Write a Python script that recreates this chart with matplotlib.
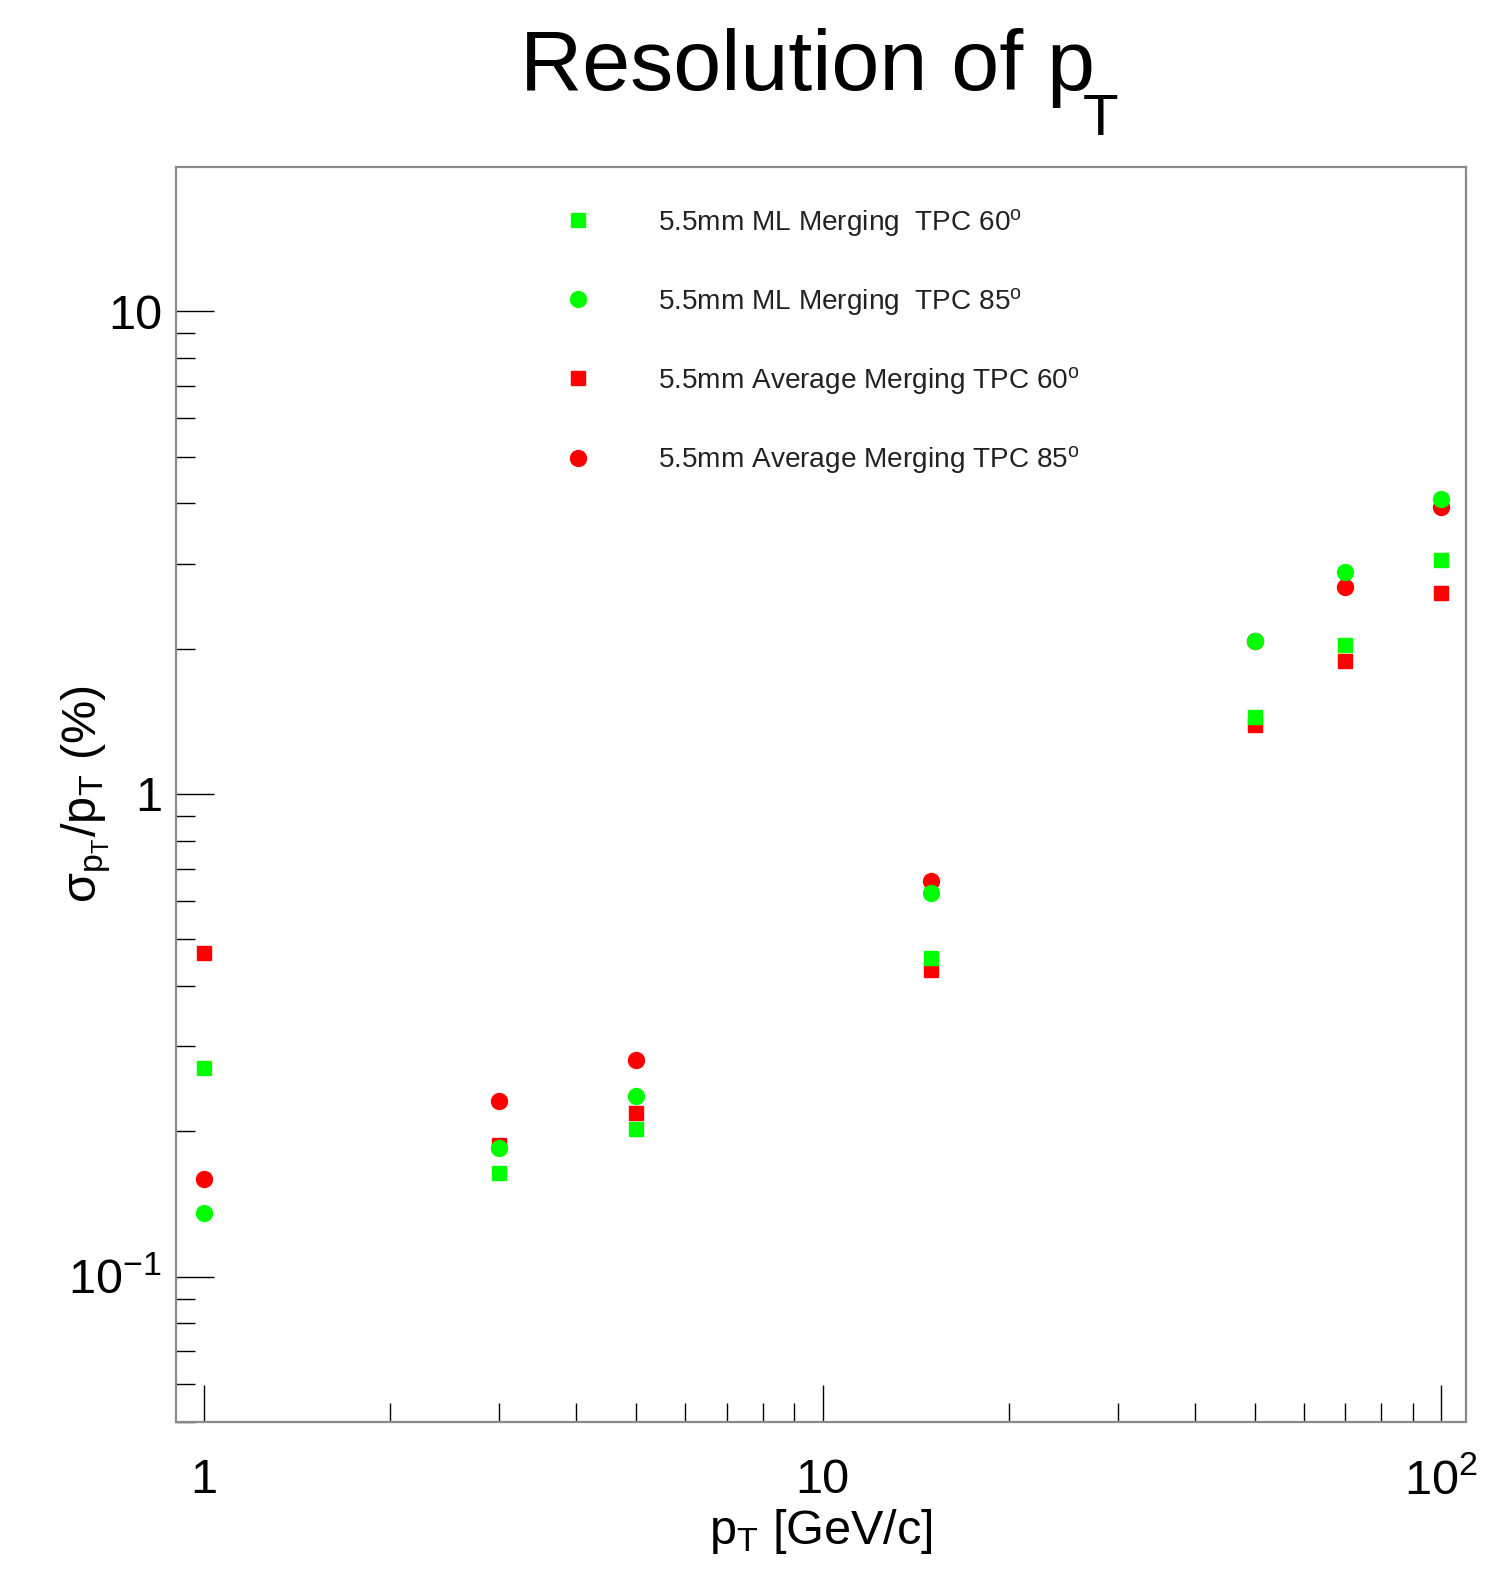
import numpy as np
import matplotlib
matplotlib.use("Agg")
import matplotlib.pyplot as plt
from matplotlib.ticker import FixedLocator, NullFormatter

plt.rcParams["font.family"] = ["Liberation Sans", "DejaVu Sans"]
plt.rcParams["mathtext.fontset"] = "custom"
plt.rcParams["mathtext.rm"] = "Liberation Sans"
plt.rcParams["mathtext.it"] = "Liberation Sans"
plt.rcParams["mathtext.default"] = "regular"

# ---------------------------------------------------------
# Data
# ---------------------------------------------------------
pt = [1, 3, 5, 15, 50, 70, 100]

ml_60 = [0.271, 0.164, 0.2025, 0.4575, 1.446, 2.035, 3.05]
ml_85 = [0.1357, 0.185, 0.237, 0.625, 2.077, 2.885, 4.08]
avg_60 = [0.469, 0.1877, 0.2187, 0.432, 1.39, 1.888, 2.61]
avg_85 = [0.1595, 0.2314, 0.2813, 0.661, 2.07, 2.683, 3.93]

labels = [
    "5.5mm ML Merging  TPC 60$^{o}$",
    "5.5mm ML Merging  TPC 85$^{o}$",
    "5.5mm Average Merging TPC 60$^{o}$",
    "5.5mm Average Merging TPC 85$^{o}$",
]

GREEN = "#00ff00"
RED = "#ff0000"

W, H = 1491, 1569

# ---------------------------------------------------------
# Plot
# ---------------------------------------------------------
fig = plt.figure(figsize=(W / 100, H / 100), dpi=100)
ax = fig.add_axes([176 / W, 1 - 1422 / H, 1290 / W, 1255 / H])

ax.set_xscale("log")
ax.set_yscale("log")
ax.set_xlim(0.901, 109.7)
ax.set_ylim(0.05, 19.9)

# red drawn first, green on top
h_rs, = ax.plot(pt, avg_60, "s", color=RED, ms=10, mec=RED, zorder=3)
h_rc, = ax.plot(pt, avg_85, "o", color=RED, ms=11.5, mec=RED, zorder=3)
h_gs, = ax.plot(pt, ml_60, "s", color=GREEN, ms=10, mec=GREEN, zorder=4)
h_gc, = ax.plot(pt, ml_85, "o", color=GREEN, ms=11.5, mec=GREEN, zorder=4)

# ticks, ROOT style
ax.xaxis.set_major_locator(FixedLocator([1, 10, 100]))
ax.set_xticklabels(["1", "10", "$10^{2}$"])
ax.xaxis.set_minor_locator(FixedLocator(
    [i for i in range(2, 10)] + [i * 10 for i in range(2, 10)]))
ax.xaxis.set_minor_formatter(NullFormatter())

ax.yaxis.set_major_locator(FixedLocator([0.1, 1, 10]))
ax.set_yticklabels(["$10^{-1}$", "1", "10"])
ax.yaxis.set_minor_locator(FixedLocator(
    [i * 0.01 for i in range(5, 10)] + [i * 0.1 for i in range(2, 10)]
    + [float(i) for i in range(2, 10)]))
ax.yaxis.set_minor_formatter(NullFormatter())

ax.tick_params(which="both", direction="in", top=False, right=False,
               color="black", width=1.0, labelsize=35)
ax.tick_params(which="major", length=27)
ax.tick_params(which="minor", length=13.5)
ax.tick_params(axis="x", which="major", pad=26)
ax.tick_params(axis="y", which="major", pad=10)

for s in ax.spines.values():
    s.set_color("#8a8a8a")
    s.set_linewidth(1.6)

ax.set_xlabel("p$_{T}$ [GeV/c]", fontsize=35, labelpad=2)
ax.set_ylabel(r"$\sigma_{p_{T}}$/p$_{T}$ (%)", fontsize=35, va="bottom")
ax.yaxis.set_label_coords(-0.049, 0.5)

# title: "p" with a low-hanging "T" like ROOT draws it
t1 = fig.text(520 / W, 1 - 90 / H, "Resolution of p",
              fontsize=62, ha="left", va="baseline")
fig.canvas.draw()
bb = t1.get_window_extent(fig.canvas.get_renderer())
fig.text(bb.x1 / W - 12 / W, 1 - 135 / H, "T",
         fontsize=42, ha="left", va="baseline")

leg = ax.legend([h_gs, h_gc, h_rs, h_rc], labels,
                loc="upper left", bbox_to_anchor=(0.3008, 0.9685),
                frameon=False, fontsize=20.2, numpoints=1,
                handlelength=1.0, handletextpad=2.35, labelspacing=1.68,
                borderpad=0, borderaxespad=0)
for t in leg.get_texts():
    t.set_color("#222222")

fig.savefig("out.png", dpi=100)
